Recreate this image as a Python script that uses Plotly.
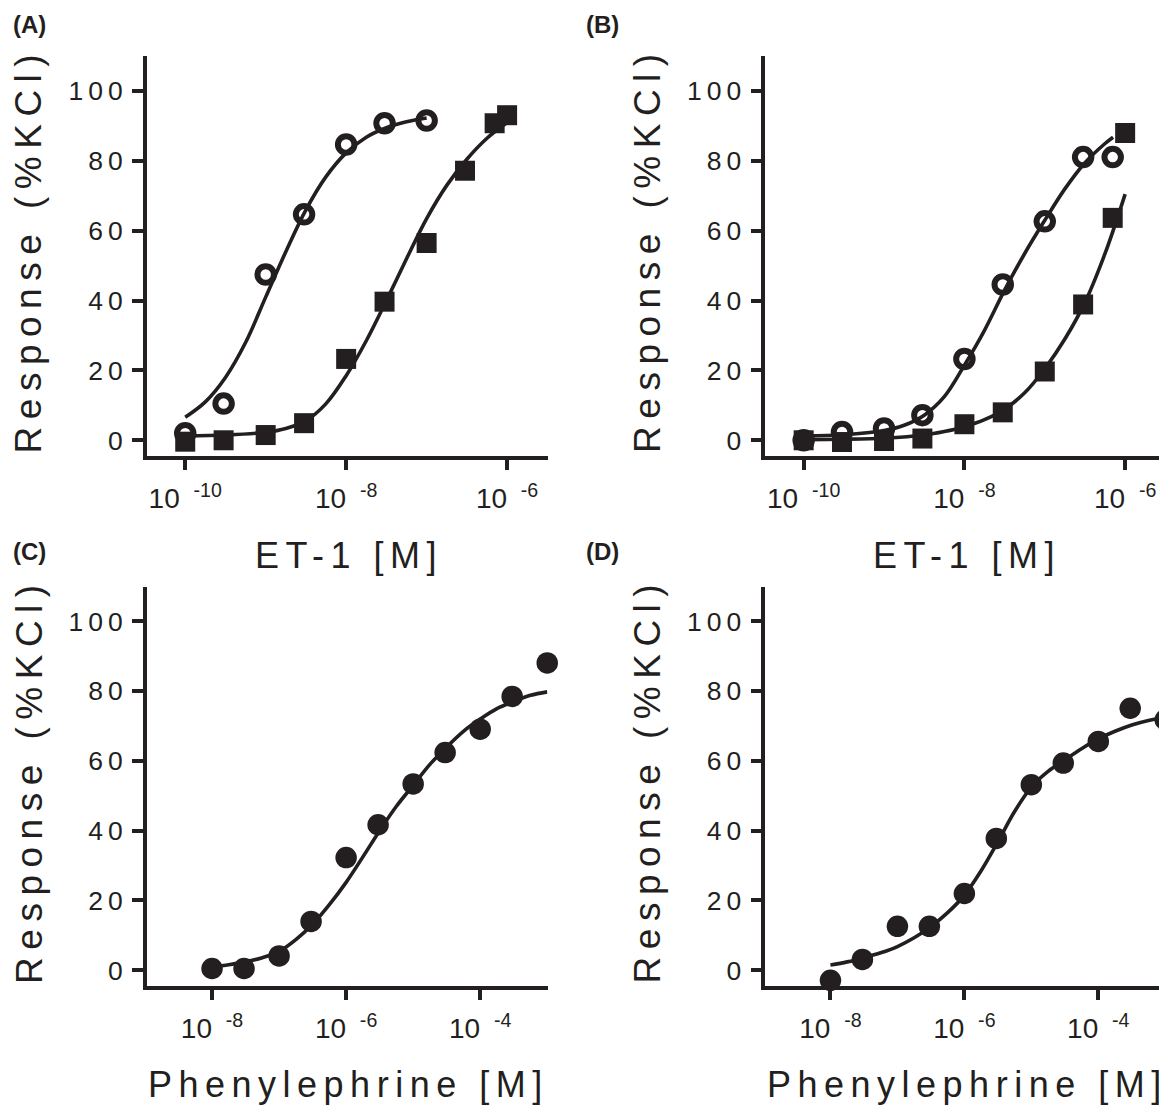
import plotly.graph_objects as go

INK = "#231f20"
FONT = "Liberation Sans, Arial, sans-serif"
OFF = 8                      # default body margin of the html page
W, H = 1167 - OFF, 1107 - OFF

# ---------------- data ----------------
# Panel A : ET-1, open circles and filled squares
a_circ_conc = [1e-10, 3e-10, 1e-9, 3e-9, 1e-8, 3e-8, 1e-7]
a_circ_resp = [2.0, 10.5, 47.5, 64.7, 84.7, 90.8, 91.6]
a_sq_conc = [1e-10, 3e-10, 1e-9, 3e-9, 1e-8, 3e-8, 1e-7, 3e-7, 7e-7, 1e-6]
a_sq_resp = [-0.4, 0.0, 1.5, 4.9, 23.3, 39.7, 56.5, 77.2, 90.8, 93.1]
a_circ_fit_logx = [-10, -9.75, -9.5, -9.25, -9, -8.75, -8.5, -8.25, -8, -7.75, -7.5, -7.25, -7]
a_circ_fit_y = [6.6, 11.0, 18.0, 28.0, 41.0, 54.0, 66.0, 75.5, 82.3, 86.8, 89.5, 91.2, 92.3]
a_sq_fit_logx = [-10, -9.5, -9, -8.75, -8.5, -8.25, -8, -7.75, -7.5, -7.25, -7, -6.75, -6.5, -6.25, -6]
a_sq_fit_y = [1.2, 1.5, 2.3, 3.4, 5.6, 10.5, 18.5, 28.5, 40.0, 52.0, 63.5, 73.0, 80.5, 86.5, 91.0]

# Panel B : ET-1, open circles and filled squares
b_circ_conc = [1e-10, 3e-10, 1e-9, 3e-9, 1e-8, 3e-8, 1e-7, 3e-7, 7e-7]
b_circ_resp = [0.0, 2.4, 3.4, 7.2, 23.3, 44.6, 62.7, 81.1, 81.1]
b_sq_conc = [1e-10, 3e-10, 1e-9, 3e-9, 1e-8, 3e-8, 1e-7, 3e-7, 7e-7, 1e-6]
b_sq_resp = [0.0, -0.5, -0.2, 0.5, 4.6, 8.0, 19.7, 38.9, 63.7, 88.0]
b_circ_fit_logx = [-10, -9.5, -9, -8.75, -8.5, -8.25, -8, -7.75, -7.5, -7.25, -7, -6.75, -6.5, -6.25, -6.15]
b_circ_fit_y = [1.3, 1.6, 2.8, 4.3, 7.2, 12.5, 21.5, 31.5, 43.0, 53.5, 63.0, 72.0, 79.5, 85.0, 86.8]
b_sq_fit_logx = [-10, -9.5, -9, -8.5, -8.25, -8, -7.75, -7.5, -7.25, -7, -6.75, -6.5, -6.25, -6]
b_sq_fit_y = [0.2, 0.3, 0.6, 1.5, 2.5, 3.9, 5.9, 8.9, 13.6, 20.5, 29.0, 39.5, 53.5, 70.5]

# Panel C : phenylephrine
c_conc = [1e-8, 3e-8, 1e-7, 3e-7, 1e-6, 3e-6, 1e-5, 3e-5, 1e-4, 3e-4, 1e-3]
c_resp = [0.5, 0.5, 4.1, 14.0, 32.3, 41.7, 53.4, 62.4, 69.1, 78.5, 88.1]
c_fit_logx = [-8, -7.75, -7.5, -7.25, -7, -6.75, -6.5, -6.25, -6, -5.75, -5.5, -5.25, -5,
              -4.75, -4.5, -4.25, -4, -3.75, -3.5, -3.25, -3]
c_fit_y = [1.0, 1.6, 2.4, 3.6, 5.4, 8.8, 13.2, 18.8, 25.2, 32.5, 40.0, 47.0, 53.0,
           59.0, 64.0, 68.5, 72.0, 75.0, 77.0, 78.8, 79.8]

# Panel D : phenylephrine
d_conc = [1e-8, 3e-8, 1e-7, 3e-7, 1e-6, 3e-6, 1e-5, 3e-5, 1e-4, 3e-4, 1e-3]
d_resp = [-2.9, 3.1, 12.6, 12.6, 22.0, 37.8, 53.2, 59.4, 65.6, 75.1, 71.8]
d_fit_logx = [-8, -7.75, -7.5, -7.25, -7, -6.75, -6.5, -6.25, -6, -5.75, -5.5, -5.25, -5,
              -4.75, -4.5, -4.25, -4, -3.75, -3.5, -3.25, -3]
d_fit_y = [1.5, 2.4, 3.6, 5.0, 6.8, 9.3, 12.5, 16.5, 21.5, 28.5, 36.8, 45.5, 52.5,
           57.0, 60.3, 63.5, 66.3, 68.5, 70.3, 71.6, 72.5]

y_ticks = [0, 20, 40, 60, 80, 100]
et_ticks = [1e-10, 1e-8, 1e-6]
et_tick_exp = ["-10", "-8", "-6"]
pe_ticks = [1e-8, 1e-6, 1e-4]
pe_tick_exp = ["-8", "-6", "-4"]

panel_labels = ["(A)", "(B)", "(C)", "(D)"]
y_title = "Response (%KCl)"
et_title = "ET-1 [M]"
pe_title = "Phenylephrine [M]"


def spaced(text, ls):
    """letter-spaced text (no trailing space after the last glyph)"""
    if len(text) < 2:
        return text
    return f'<span style="letter-spacing:{ls}px">{text[:-1]}</span>{text[-1]}'


def fx(px):
    return (px - OFF) / W


def fy(py):
    return 1 - (py - OFF) / H


fig = go.Figure()

MS_OPEN, LW_OPEN = 16.5, 6
MS_SQ = 20
MS_DOT = 21.5
CURVE_W = 3.6


def curve(logx, y, xa, ya):
    fig.add_trace(go.Scatter(x=[10 ** v for v in logx], y=y, mode="lines",
                             line=dict(color=INK, width=CURVE_W, shape="spline", smoothing=1.0),
                             xaxis=xa, yaxis=ya, hoverinfo="skip"))


def pts(x, y, xa, ya, symbol, size, lw=0):
    fig.add_trace(go.Scatter(x=x, y=y, mode="markers", cliponaxis=False,
                             marker=dict(symbol=symbol, size=size, color=INK,
                                         line=dict(color=INK, width=lw)),
                             xaxis=xa, yaxis=ya))


# A
curve(a_circ_fit_logx, a_circ_fit_y, "x", "y")
curve(a_sq_fit_logx, a_sq_fit_y, "x", "y")
pts(a_circ_conc, a_circ_resp, "x", "y", "circle-open", MS_OPEN, LW_OPEN)
pts(a_sq_conc, a_sq_resp, "x", "y", "square", MS_SQ)
# B
curve(b_circ_fit_logx, b_circ_fit_y, "x2", "y2")
curve(b_sq_fit_logx, b_sq_fit_y, "x2", "y2")
pts(b_circ_conc, b_circ_resp, "x2", "y2", "circle-open", MS_OPEN, LW_OPEN)
pts(b_sq_conc, b_sq_resp, "x2", "y2", "square", MS_SQ)
# C
curve(c_fit_logx, c_fit_y, "x3", "y3")
pts(c_conc, c_resp, "x3", "y3", "circle", MS_DOT)
# D
curve(d_fit_logx, d_fit_y, "x4", "y4")
pts(d_conc, d_resp, "x4", "y4", "circle", MS_DOT)

# ---------------- axes ----------------
LINE_W = 3.5
left_dom = [fx(146.75), fx(547.5)]
right_dom = [fx(765.25), min(1.0, fx(1165.5))]
top_dom = [fy(456.0), fy(56.2)]
bot_dom = [fy(985.95), fy(586.5)]


def xax(dom, rng, ticks, exps, anchor):
    return dict(domain=dom, type="log", range=rng, anchor=anchor,
                showline=True, linewidth=LINE_W, linecolor=INK,
                ticks="outside", ticklen=10, tickwidth=LINE_W, tickcolor=INK,
                tickvals=ticks, ticklabelstandoff=5,
                ticktext=[f'10<span style="letter-spacing:6px"> </span><sup>{e}</sup>' for e in exps],
                tickfont=dict(family=FONT, size=28, color=INK),
                showgrid=False, zeroline=False, fixedrange=True)


def yax(dom, anchor):
    return dict(domain=dom, range=[-4.5, 110], anchor=anchor,
                showline=True, linewidth=LINE_W, linecolor=INK,
                ticks="outside", ticklen=11, tickwidth=LINE_W, tickcolor=INK,
                tickvals=y_ticks, ticktext=[spaced(str(v), 5) for v in y_ticks],
                ticklabelstandoff=4,
                tickfont=dict(family=FONT, size=26.5, color=INK),
                showgrid=False, zeroline=False, fixedrange=True)


fig.update_layout(
    width=W, height=H, margin=dict(l=0, r=0, t=0, b=0),
    paper_bgcolor="white", plot_bgcolor="white", showlegend=False,
    xaxis=xax(left_dom, [-10.478, -5.498], et_ticks, et_tick_exp, "y"),
    yaxis=yax(top_dom, "x"),
    xaxis2=xax(right_dom, [-10.478, -5.498], et_ticks, et_tick_exp, "y2"),
    yaxis2=yax(top_dom, "x2"),
    xaxis3=xax(left_dom, [-8.974, -2.996], pe_ticks, pe_tick_exp, "y3"),
    yaxis3=yax(bot_dom, "x3"),
    xaxis4=xax(right_dom, [-8.974, -2.996], pe_ticks, pe_tick_exp, "y4"),
    yaxis4=yax(bot_dom, "x4"),
)


def ann(text, px, py, size, angle=0, bold=False):
    fig.add_annotation(text=text, x=fx(px), y=fy(py), xref="paper", yref="paper",
                       xanchor="center", yanchor="middle", showarrow=False, textangle=angle,
                       font=dict(family=FONT, size=size, color=INK,
                                 weight="bold" if bold else "normal"))


# panel labels
for lab, (px, py) in zip(panel_labels, [(29.7, 24.5), (602.5, 24.5), (29.7, 551.2), (602.5, 551.2)]):
    ann(lab, px, py, 24, bold=True)

# y titles
for px, py in [(28.9, 253.5), (647.4, 253.5), (28.9, 784.0), (647.4, 784.0)]:
    ann(spaced(y_title, 7.5), px, py, 37, angle=-90)

# x titles
ann(spaced(et_title, 6.5), 345.8, 555.8, 36)
ann(spaced(et_title, 6.5), 964.3, 555.8, 36)
ann(spaced(pe_title, 6.5), 345.0, 1084.2, 36)
ann(spaced(pe_title, 6.5), 964.0, 1084.2, 36)

fig.write_html("out.html")
